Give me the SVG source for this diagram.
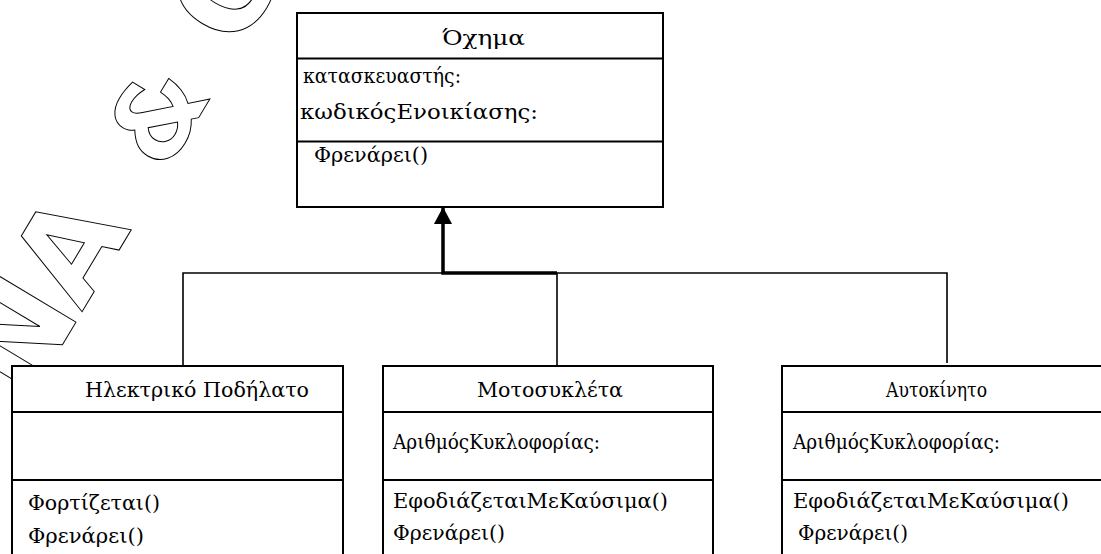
<svg xmlns="http://www.w3.org/2000/svg" width="1101" height="554" viewBox="0 0 1101 554">
<style>
.box{fill:#fff;stroke:#000;stroke-width:2}
.div{stroke:#000;stroke-width:1.8}
.t{font-family:'DejaVu Serif',serif;font-size:20px;fill:#000}
.thin{fill:none;stroke:#000;stroke-width:1.6}
.thick{fill:none;stroke:#000;stroke-width:3.5}
.wm{font-family:'DejaVu Sans',sans-serif;font-weight:bold;font-size:125px;fill:none;stroke:#000;stroke-width:1}
</style>
<defs>
<marker id="arr" markerUnits="userSpaceOnUse" markerWidth="18" markerHeight="18" viewBox="0 0 18 18" refX="17" refY="9" orient="auto">
<path d="M0,0 L17,9 L0,18 z" fill="#000"/>
</marker>
</defs>
<rect width="1101" height="554" fill="#fff"/>
<g id="watermark">
<text class="wm" transform="translate(82,312) rotate(-59)" x="-105">Ν<tspan>Α</tspan><tspan dx="65" font-size="105">&amp;</tspan><tspan dx="50">Ο</tspan></text>
</g>
<g id="connectors">
<path class="thin" d="M183,367 V273 H947 V363"/>
<path class="thin" d="M557,273 V366"/>
<path class="thick" d="M557,273 H443 V207" marker-end="url(#arr)"/>
</g>
<g id="oxima">
<rect class="box" x="297" y="13" width="366" height="194"/>
<line class="div" x1="297" y1="58.5" x2="663" y2="58.5"/>
<line class="div" x1="297" y1="141.5" x2="663" y2="141.5"/>
<text class="t" x="442" y="45" textLength="83" lengthAdjust="spacingAndGlyphs">Όχημα</text>
<text class="t" x="303" y="83" textLength="158" lengthAdjust="spacingAndGlyphs">κατασκευαστής:</text>
<text class="t" x="300" y="119" textLength="238" lengthAdjust="spacingAndGlyphs">κωδικόςΕνοικίασης:</text>
<text class="t" x="314" y="162" textLength="114" lengthAdjust="spacingAndGlyphs">Φρενάρει()</text>
</g>
<g id="podilato">
<rect class="box" x="12" y="366" width="331" height="200"/>
<line class="div" x1="12" y1="412" x2="343" y2="412"/>
<line class="div" x1="12" y1="480" x2="343" y2="480"/>
<text class="t" x="85" y="397" textLength="224" lengthAdjust="spacingAndGlyphs">Ηλεκτρικό Ποδήλατο</text>
<text class="t" x="28" y="510" textLength="132" lengthAdjust="spacingAndGlyphs">Φορτίζεται()</text>
<text class="t" x="28" y="543" textLength="116" lengthAdjust="spacingAndGlyphs">Φρενάρει()</text>
</g>
<g id="motosykleta">
<rect class="box" x="383" y="366" width="330" height="200"/>
<line class="div" x1="383" y1="412" x2="713" y2="412"/>
<line class="div" x1="383" y1="480" x2="713" y2="480"/>
<text class="t" x="477" y="397" textLength="146" lengthAdjust="spacingAndGlyphs">Μοτοσυκλέτα</text>
<text class="t" x="393" y="449" textLength="207" lengthAdjust="spacingAndGlyphs">ΑριθμόςΚυκλοφορίας:</text>
<text class="t" x="393" y="508" textLength="275" lengthAdjust="spacingAndGlyphs">ΕφοδιάζεταιΜεΚαύσιμα()</text>
<text class="t" x="393" y="540" textLength="112" lengthAdjust="spacingAndGlyphs">Φρενάρει()</text>
</g>
<g id="aftokinito">
<rect class="box" x="782" y="366" width="340" height="200"/>
<line class="div" x1="782" y1="412" x2="1101" y2="412"/>
<line class="div" x1="782" y1="480" x2="1101" y2="480"/>
<text class="t" x="886" y="397" textLength="101" lengthAdjust="spacingAndGlyphs">Αυτοκίνητο</text>
<text class="t" x="793" y="449" textLength="207" lengthAdjust="spacingAndGlyphs">ΑριθμόςΚυκλοφορίας:</text>
<text class="t" x="793" y="508" textLength="276" lengthAdjust="spacingAndGlyphs">ΕφοδιάζεταιΜεΚαύσιμα()</text>
<text class="t" x="798" y="540" textLength="110" lengthAdjust="spacingAndGlyphs">Φρενάρει()</text>
</g>
</svg>
